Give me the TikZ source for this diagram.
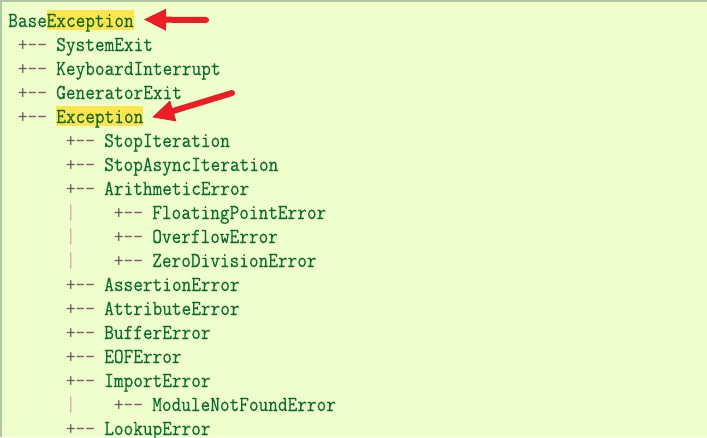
\documentclass[tikz,border=0pt]{standalone}
\usepackage{fontspec}
\usetikzlibrary{arrows.meta}
\newfontfamily\codefont[FakeStretch=0.88,FakeBold=0.3]{Latin Modern Mono}
\definecolor{bg}{HTML}{EEFFCC}
\definecolor{txt}{HTML}{0A6E2A}
\definecolor{op}{HTML}{7A6868}
\definecolor{barc}{HTML}{D4B0B0}
\definecolor{hl}{HTML}{FFE44C}
\definecolor{framec}{HTML}{AFC8A2}
\definecolor{arr}{HTML}{EE1D25}
\begin{document}
\begin{tikzpicture}[x=0.75pt,y=-0.75pt,
  codetext/.style={anchor=base west, inner sep=0pt, font=\codefont\fontsize{16pt}{16pt}\selectfont},
  clsname/.style={codetext, text=txt},
  branchmark/.style={codetext, text=op},
  vbarmark/.style={codetext, text=barc},
  hlbox/.style={clsname, fill=hl, text height=13.1pt, text depth=1.9pt},
  redarrow/.style={draw=arr, line width=4.5pt, line cap=round, -{Triangle[length=17pt,width=15pt]}}]
\useasboundingbox (0,0) rectangle (707,437);
\fill[bg] (0,0) rectangle (707,437);
\draw[framec, line width=1.2pt] (1,437) -- (1,1) -- (707,1);

% row 0
\node[clsname] (base) at (8,27) {Base};
\node[hlbox] (h0) at (46.4,27) {Exception};
% level 1
\node[branchmark] (p1) at (17.6,51) {+--};  \node[clsname] (n1) at (56,51) {SystemExit};
\node[branchmark] (p2) at (17.6,75) {+--};  \node[clsname] (n2) at (56,75) {KeyboardInterrupt};
\node[branchmark] (p3) at (17.6,99) {+--};  \node[clsname] (n3) at (56,99) {GeneratorExit};
\node[branchmark] (p4) at (17.6,123) {+--}; \node[hlbox] (h4) at (56,123) {Exception};
% level 2
\node[branchmark] (p5) at (65.6,147) {+--}; \node[clsname] (n5) at (104,147) {StopIteration};
\node[branchmark] (p6) at (65.6,171) {+--}; \node[clsname] (n6) at (104,171) {StopAsyncIteration};
\node[branchmark] (p7) at (65.6,195) {+--}; \node[clsname] (n7) at (104,195) {ArithmeticError};
\node[vbarmark] (v8) at (65.6,219) {|};   \node[branchmark] (p8) at (113.6,219) {+--}; \node[clsname] (n8) at (152,219) {FloatingPointError};
\node[vbarmark] (v9) at (65.6,243) {|};   \node[branchmark] (p9) at (113.6,243) {+--}; \node[clsname] (n9) at (152,243) {OverflowError};
\node[vbarmark] (v10) at (65.6,267) {|};  \node[branchmark] (p10) at (113.6,267) {+--}; \node[clsname] (n10) at (152,267) {ZeroDivisionError};
\node[branchmark] (p11) at (65.6,291) {+--}; \node[clsname] (n11) at (104,291) {AssertionError};
\node[branchmark] (p12) at (65.6,315) {+--}; \node[clsname] (n12) at (104,315) {AttributeError};
\node[branchmark] (p13) at (65.6,339) {+--}; \node[clsname] (n13) at (104,339) {BufferError};
\node[branchmark] (p14) at (65.6,363) {+--}; \node[clsname] (n14) at (104,363) {EOFError};
\node[branchmark] (p15) at (65.6,387) {+--}; \node[clsname] (n15) at (104,387) {ImportError};
\node[vbarmark] (v16) at (65.6,411) {|};  \node[branchmark] (p16) at (113.6,411) {+--}; \node[clsname] (n16) at (152,411) {ModuleNotFoundError};
\node[branchmark] (p17) at (65.6,435) {+--}; \node[clsname] (n17) at (104,435) {LookupError};

% arrows
\coordinate (t1) at (206,20);
\coordinate (tip1) at ([xshift=7pt]h0.east);
\draw[redarrow] (t1) -- (tip1);
\coordinate (t2) at (232,93);
\coordinate (tip2) at ([xshift=6pt,yshift=-1.5pt]h4.east);
\draw[redarrow] (t2) -- (tip2);
\end{tikzpicture}
\end{document}
